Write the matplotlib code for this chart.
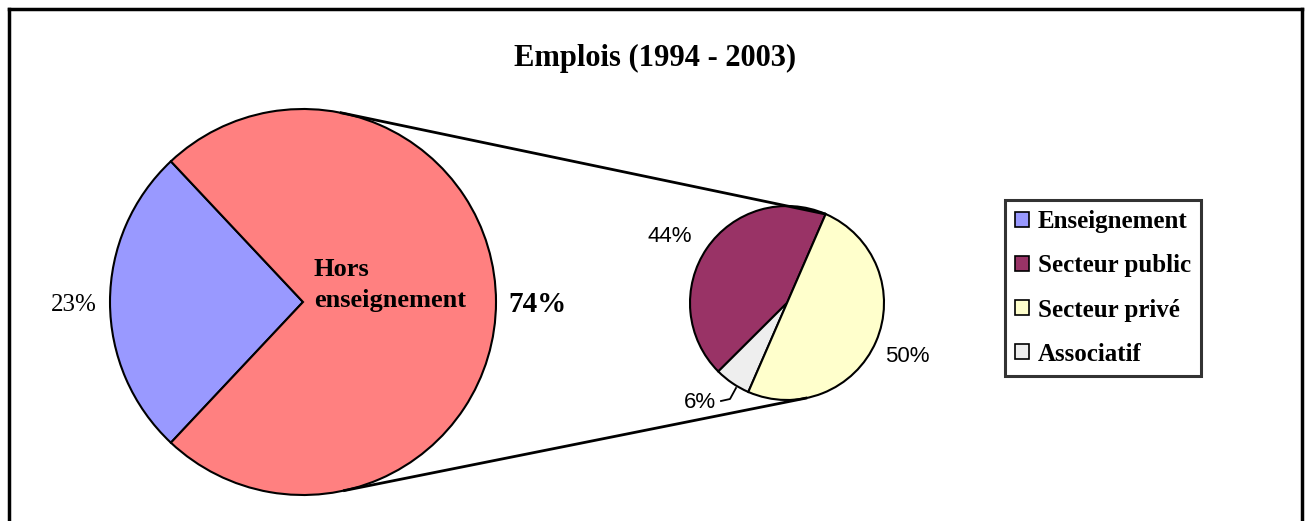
import numpy as np
import matplotlib.pyplot as plt
from matplotlib.lines import Line2D
from matplotlib.patches import Patch

# data
main_names = ["Enseignement", "Hors enseignement"]
main_shares = [26, 74]
main_labels = ["23%", "74%"]

sub_names = ["Secteur public", "Associatif", "Secteur privé"]
sub_shares = [44, 6, 50]
sub_labels = ["44%", "6%", "50%"]

legend_names = ["Enseignement", "Secteur public", "Secteur privé", "Associatif"]

main_colors = ["#9999FF", "#FF8080"]
sub_colors = ["#993366", "#EEEEEE", "#FFFFCC"]
legend_colors = ["#9999FF", "#993366", "#FFFFCC", "#EEEEEE"]

W, H = 1310, 521
serif = ["Liberation Serif", "DejaVu Serif"]
sans = ["Liberation Sans", "DejaVu Sans"]

fig = plt.figure(figsize=(W / 100, H / 100), dpi=100)
ax = fig.add_axes([0, 0, 1, 1])


def py(y):
    # pixel row (from top) -> data y
    return H - y


big_c = (303, py(302))
big_r = 193
small_c = (787, py(303))
small_r = 97

main_start = 180 - main_shares[0] / 100 * 360 / 2
ax.pie(main_shares, colors=main_colors, center=big_c, radius=big_r,
       startangle=main_start, counterclock=True,
       wedgeprops=dict(edgecolor="black", linewidth=1.5))

sub_start = 66.5
ax.pie(sub_shares, colors=sub_colors, center=small_c, radius=small_r,
       startangle=sub_start, counterclock=True,
       wedgeprops=dict(edgecolor="black", linewidth=1.5))


def on_circle(c, r, deg):
    a = np.deg2rad(deg)
    return c[0] + r * np.cos(a), c[1] + r * np.sin(a)


# connector lines between the two pies
for a_big, a_small in [(79, sub_start), (-78, -78)]:
    x0, y0 = on_circle(big_c, big_r, a_big)
    x1, y1 = on_circle(small_c, small_r, a_small)
    ax.plot([x0, x1], [y0, y1], color="black", lw=2, solid_capstyle="butt")

# labels
ax.text(74, py(305), main_labels[0], fontsize=18, family=serif,
        ha="center", va="center")
ax.text(537, py(305), main_labels[1], fontsize=21, family=serif,
        fontweight="bold", ha="center", va="center")
ax.text(314, py(285), "Hors\nenseignement", fontsize=19, family=serif,
        fontweight="bold", ha="left", va="center", linespacing=1.45)

ax.text(670, py(236), sub_labels[0], fontsize=16, family=sans,
        ha="center", va="center")
ax.text(907, py(357), sub_labels[2], fontsize=16, family=sans,
        ha="center", va="center")
ax.text(700, py(402), sub_labels[1], fontsize=16, family=sans,
        ha="center", va="center")
ax.plot([721, 730, 736], [py(401), py(399), py(388)], color="black", lw=1.3)

ax.text(W / 2, py(58), "Emplois (1994 - 2003)", fontsize=22, family=serif,
        fontweight="bold", ha="center", va="center")

handles = [Patch(facecolor=c, edgecolor="black", linewidth=1.2)
           for c in legend_colors]
leg = ax.legend(handles, legend_names, loc="upper left",
                bbox_to_anchor=(1005 / W, 1 - 200 / H),
                prop=dict(family=serif, size=18, weight="bold"),
                frameon=True, fancybox=False, handlelength=0.55,
                handleheight=0.55, handletextpad=0.35, labelspacing=0.85,
                borderpad=0.4, borderaxespad=0)
leg.get_frame().set_edgecolor("black")
leg.get_frame().set_linewidth(2.2)

ax.set_xlim(0, W)
ax.set_ylim(0, H)
ax.set_aspect("equal")
ax.axis("off")

# outer frame (bottom edge falls outside the picture)
for xs, ys in [([9, 9], [0, py(9)]), ([9, 1302], [py(9), py(9)]),
               ([1302, 1302], [py(9), 0])]:
    fig.add_artist(Line2D(np.array(xs) / W, np.array(ys) / H,
                          color="black", lw=2.5))

fig.savefig("out.png", dpi=100, facecolor="white")
